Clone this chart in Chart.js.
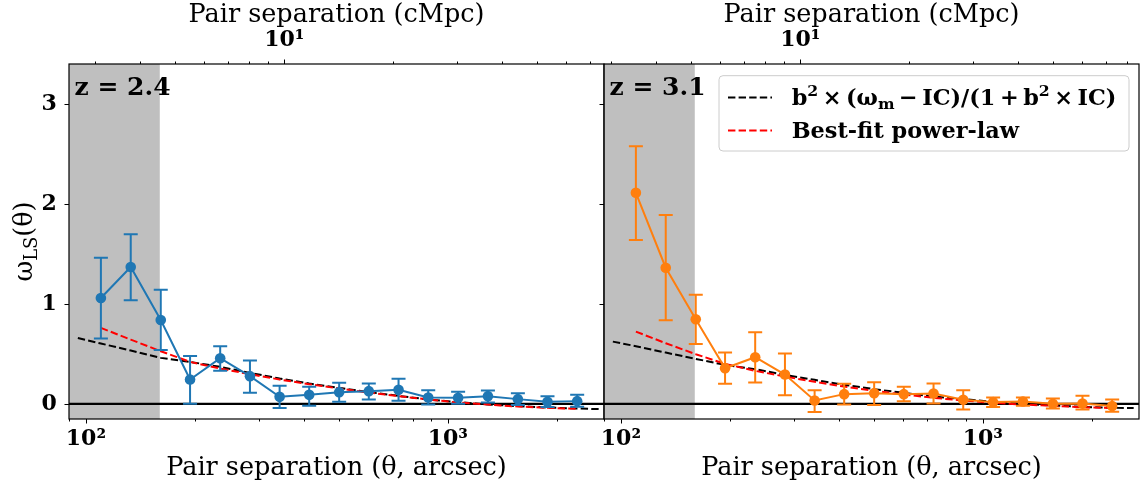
<!DOCTYPE html>
<html><head><meta charset="utf-8">
<script src="https://cdn.jsdelivr.net/npm/chart.js@4.4.1/dist/chart.umd.min.js"></script>
<style>
html,body{margin:0;padding:0;background:#fff;}
#wrap{position:relative;width:1140px;height:487px;overflow:hidden;background:#fff;}
.pane{position:absolute;top:0;height:487px;}
</style></head><body>
<div id="wrap">
<div class="pane" style="left:0;width:620px"><canvas id="cl" width="620" height="487"></canvas></div>
<div class="pane" style="left:580px;width:580px"><canvas id="cr" width="580" height="487"></canvas></div>
</div>
<script>
// ---------------- data ----------------
const theta = [110, 133, 161, 194, 235, 284, 343, 414, 501, 605, 731, 883, 1068, 1291, 1562, 1886, 2278];

const w24  = [1.06, 1.37, 0.84, 0.243, 0.457, 0.277, 0.07, 0.09, 0.117, 0.127, 0.14, 0.063, 0.06, 0.077, 0.047, 0.02, 0.027];
const lo24 = [0.653, 1.037, 0.54, 0.0, 0.33, 0.11, -0.043, -0.02, 0.02, 0.043, 0.03, -0.007, 0.0, 0.013, -0.013, -0.033, -0.03];
const hi24 = [1.463, 1.697, 1.143, 0.48, 0.577, 0.433, 0.18, 0.17, 0.21, 0.203, 0.25, 0.137, 0.12, 0.133, 0.107, 0.077, 0.09];

const w31  = [2.113, 1.363, 0.847, 0.357, 0.467, 0.293, 0.033, 0.097, 0.107, 0.097, 0.103, 0.04, 0.017, 0.023, 0.0, 0.003, -0.023];
const lo31 = [1.64, 0.837, 0.6, 0.2, 0.213, 0.087, -0.083, -0.007, -0.013, 0.027, 0.003, -0.057, -0.033, -0.02, -0.047, -0.057, -0.08];
const hi31 = [2.58, 1.89, 1.093, 0.513, 0.717, 0.503, 0.137, 0.2, 0.217, 0.17, 0.203, 0.137, 0.063, 0.063, 0.053, 0.08, 0.043];

const modelTheta = [95, 110, 133, 161, 194, 235, 284, 343, 414, 501, 605, 731, 883, 1068, 1291, 1562, 1886, 2278, 2612];
const model24 = [0.66, 0.604, 0.533, 0.46, 0.42, 0.37, 0.31, 0.253, 0.203, 0.16, 0.117, 0.08, 0.043, 0.017, -0.007, -0.023, -0.037, -0.047, -0.053];
const model31 = [0.623, 0.577, 0.513, 0.45, 0.39, 0.347, 0.29, 0.24, 0.19, 0.147, 0.11, 0.073, 0.047, 0.02, 0.0, -0.017, -0.03, -0.04, -0.043];

const fit24 = [0.76, 0.643, 0.527, 0.42, 0.353, 0.297, 0.243, 0.197, 0.153, 0.113, 0.077, 0.043, 0.013, -0.007, -0.027, -0.04, -0.05];
const fit31 = [0.723, 0.607, 0.497, 0.4, 0.33, 0.273, 0.22, 0.173, 0.13, 0.093, 0.06, 0.033, 0.01, -0.007, -0.02, -0.033, -0.043];

const xRange = [89.8, 2702];
const yRange = [-0.152, 3.403];
const shadeMax = 160;
const cMpcPerArcsec = {z24: 0.02830, z31: 0.03192};

const bottomTicks = [90, 100, 200, 300, 400, 500, 600, 700, 800, 900, 1000, 2000];
const bottomMajor = [100, 1000];
const bottomLabels = {100: '10²', 1000: '10³'};
const topTicks = [3, 4, 5, 6, 7, 8, 9, 10, 20, 30, 40, 50, 60, 70, 80, 90];
const topMajor = [10];
const topLabels = {10: '10¹'};
const yTicks = [0, 1, 2, 3];

const legendLabels = ['b² × (ωm − IC)/(1 + b² × IC)', 'Best-fit power-law'];

// ---------------- helpers ----------------
const SERIF = '"DejaVu Serif", serif';
const BLUE = '#1f77b4', ORANGE = '#ff7f0e';

function drawRich(ctx, x, y, segs, base, weight) {
  ctx.textAlign = 'left'; ctx.textBaseline = 'alphabetic';
  for (const s of segs) {
    if (s.gap) { x += s.gap * base; continue; }
    const size = base * (s.scale || 1);
    ctx.font = `${weight} ${size}px ${SERIF}`;
    ctx.fillText(s.t, x, y + (s.dy || 0) * base);
    x += ctx.measureText(s.t).width;
  }
  return x;
}
function richWidth(ctx, segs, base, weight) {
  let w = 0;
  for (const s of segs) {
    if (s.gap) { w += s.gap * base; continue; }
    ctx.font = `${weight} ${base*(s.scale||1)}px ${SERIF}`; w += ctx.measureText(s.t).width;
  }
  return w;
}

const decor = {
  id: 'decor',
  beforeDatasetsDraw(chart, args, o) {
    const {ctx, chartArea: a, scales} = chart;
    ctx.save();
    ctx.beginPath(); ctx.rect(a.left, a.top, a.right - a.left, a.bottom - a.top); ctx.clip();
    const xs = scales.x.getPixelForValue(o.shadeMax);
    ctx.fillStyle = 'rgba(128,128,128,0.5)';
    ctx.fillRect(a.left, a.top, xs - a.left, a.bottom - a.top);
    const y0 = scales.y.getPixelForValue(0);
    ctx.strokeStyle = '#000'; ctx.lineWidth = 2.2;
    ctx.beginPath(); ctx.moveTo(a.left, y0); ctx.lineTo(a.right, y0); ctx.stroke();
    ctx.restore();
  },
  afterDatasetsDraw(chart, args, o) {
    const {ctx, chartArea: a, scales} = chart;
    ctx.save();
    ctx.beginPath(); ctx.rect(a.left, a.top, a.right - a.left, a.bottom - a.top); ctx.clip();
    ctx.strokeStyle = o.color; ctx.lineWidth = 2;
    for (let i = 0; i < o.x.length; i++) {
      const px = scales.x.getPixelForValue(o.x[i]);
      const pl = scales.y.getPixelForValue(o.lo[i]);
      const ph = scales.y.getPixelForValue(o.hi[i]);
      ctx.beginPath();
      ctx.moveTo(px, pl); ctx.lineTo(px, ph);
      ctx.moveTo(px - 7, pl); ctx.lineTo(px + 7, pl);
      ctx.moveTo(px - 7, ph); ctx.lineTo(px + 7, ph);
      ctx.stroke();
    }
    ctx.restore();
  },
  afterDraw(chart, args, o) {
    const {ctx, chartArea: a, scales} = chart;
    ctx.save();
    // tick marks
    ctx.strokeStyle = '#000'; ctx.lineWidth = 1;
    const xb = scales.x, xt = scales.x2, ys = scales.y;
    for (const v of bottomTicks) {
      if (v < xRange[0] || v > xRange[1]) continue;
      const p = Math.round(xb.getPixelForValue(v)) + 0.5;
      const L = bottomMajor.includes(v) ? 4.5 : 2.5;
      ctx.beginPath(); ctx.moveTo(p, a.bottom); ctx.lineTo(p, a.bottom + L); ctx.stroke();
    }
    for (const v of topTicks) {
      if (v < xt.min || v > xt.max) continue;
      const p = Math.round(xt.getPixelForValue(v)) + 0.5;
      const L = topMajor.includes(v) ? 4.5 : 2.5;
      ctx.beginPath(); ctx.moveTo(p, a.top); ctx.lineTo(p, a.top - L); ctx.stroke();
    }
    for (const v of yTicks) {
      const p = Math.round(ys.getPixelForValue(v)) + 0.5;
      ctx.beginPath(); ctx.moveTo(a.left, p); ctx.lineTo(a.left - 4.5, p); ctx.stroke();
    }
    // spines
    ctx.lineWidth = 1.2;
    ctx.strokeRect(a.left, a.top, a.right - a.left, a.bottom - a.top);

    // panel label
    ctx.fillStyle = '#000';
    ctx.font = `bold 25px ${SERIF}`;
    ctx.textAlign = 'left'; ctx.textBaseline = 'alphabetic';
    ctx.fillText(o.zlabel, a.left + 5.5, 95);

    // y title
    if (o.yTitle) {
      const segs = [{t: 'ω'}, {t: 'LS', scale: 0.7, dy: 0.2}, {t: '(θ)'}];
      const w = richWidth(ctx, segs, 25.5, 'normal');
      ctx.save();
      ctx.translate(31.5, (a.top + a.bottom) / 2);
      ctx.rotate(-Math.PI / 2);
      drawRich(ctx, -w / 2, 0, segs, 25.5, 'normal');
      ctx.restore();
    }

    // legend (page coordinates)
    if (o.legend) {
      const off = chart.canvas.parentNode.offsetLeft;
      ctx.translate(-off, 0);
      const bx = 719, by = 75.7, bw = 410, bh = 75.3, r = 4;
      ctx.beginPath();
      ctx.moveTo(bx + r, by); ctx.lineTo(bx + bw - r, by); ctx.quadraticCurveTo(bx + bw, by, bx + bw, by + r);
      ctx.lineTo(bx + bw, by + bh - r); ctx.quadraticCurveTo(bx + bw, by + bh, bx + bw - r, by + bh);
      ctx.lineTo(bx + r, by + bh); ctx.quadraticCurveTo(bx, by + bh, bx, by + bh - r);
      ctx.lineTo(bx, by + r); ctx.quadraticCurveTo(bx, by, bx + r, by);
      ctx.closePath();
      ctx.fillStyle = 'rgba(255,255,255,0.8)'; ctx.fill();
      ctx.strokeStyle = '#cccccc'; ctx.lineWidth = 1; ctx.stroke();
      ctx.lineWidth = 2; ctx.setLineDash([7.4, 3.2]);
      ctx.strokeStyle = '#000';
      ctx.beginPath(); ctx.moveTo(728, 97.5); ctx.lineTo(772, 97.5); ctx.stroke();
      ctx.strokeStyle = '#ff0000';
      ctx.beginPath(); ctx.moveTo(728, 130.5); ctx.lineTo(772, 130.5); ctx.stroke();
      ctx.setLineDash([]);
      ctx.fillStyle = '#000';
      const g = 0.2;
      const segs = [
        {t: 'b'}, {t: '2', scale: 0.7, dy: -0.4}, {gap: g}, {t: '×'}, {gap: g}, {t: '(ω'}, {t: 'm', scale: 0.7, dy: 0.2},
        {gap: g}, {t: '−'}, {gap: g}, {t: 'IC)/(1'}, {gap: g}, {t: '+'}, {gap: g}, {t: 'b'},
        {t: '2', scale: 0.7, dy: -0.4}, {gap: g}, {t: '×'}, {gap: g}, {t: 'IC)'}
      ];
      drawRich(ctx, 791.7, 104.5, segs, 22.4, 'bold');
      drawRich(ctx, 791.7, 137.5, [{t: legendLabels[1]}], 22.4, 'bold');
    }
    ctx.restore();
  }
};

function makeChart(id, opts) {
  const k = opts.k;
  const tickFont = {family: 'DejaVu Serif', size: 22, weight: 'bold'};
  const titleFont = {family: 'DejaVu Serif', size: 25.5, weight: 'normal'};
  const noGrid = {display: false, drawTicks: false, tickLength: 0};
  const chart = new Chart(document.getElementById(id), {
    type: 'line',
    data: {
      datasets: [
        {data: theta.map((x, i) => ({x, y: opts.w[i]})), borderColor: opts.color, backgroundColor: opts.color,
         borderWidth: 2, pointRadius: 5.3, pointBorderWidth: 0, pointBackgroundColor: opts.color, order: 0},
        {data: theta.map((x, i) => ({x, y: opts.fit[i]})), borderColor: '#ff0000', borderWidth: 2,
         borderDash: [7.4, 3.2], pointRadius: 0, order: 1},
        {data: modelTheta.map((x, i) => ({x, y: opts.model[i]})), borderColor: '#000000', borderWidth: 2,
         borderDash: [7.4, 3.2], pointRadius: 0, order: 2}
      ]
    },
    options: {
      responsive: false, animation: false, devicePixelRatio: 1,
      layout: {padding: {left: 0, right: opts.padRight, top: 0, bottom: 0}},
      plugins: {
        legend: {display: false}, tooltip: {enabled: false},
        decor: {shadeMax, zlabel: opts.zlabel, yTitle: opts.yTitle, legend: opts.legend,
                color: opts.color, x: theta, lo: opts.lo, hi: opts.hi}
      },
      scales: {
        x: {
          type: 'logarithmic', position: 'bottom', min: xRange[0], max: xRange[1],
          grid: noGrid, border: {display: false},
          afterBuildTicks: s => { s.ticks = bottomTicks.filter(v => v >= xRange[0] && v <= xRange[1]).map(v => ({value: v})); },
          afterFit: s => { s.height = 68; },
          ticks: {autoSkip: false, maxRotation: 0, padding: 7.5, color: '#000', font: tickFont,
                  callback: v => bottomLabels[v] || ''},
          title: {display: true, text: 'Pair separation (θ, arcsec)', color: '#000', font: titleFont,
                  padding: {top: 0, bottom: 3.8}}
        },
        x2: {
          type: 'logarithmic', position: 'top', min: xRange[0] * k, max: xRange[1] * k,
          grid: noGrid, border: {display: false},
          afterBuildTicks: s => { s.ticks = topTicks.filter(v => v >= s.min && v <= s.max).map(v => ({value: v})); },
          afterFit: s => { s.height = 64; },
          ticks: {autoSkip: false, maxRotation: 0, padding: 10.1, color: '#000', font: tickFont,
                  callback: v => topLabels[v] || ''},
          title: {display: true, text: 'Pair separation (cMpc)', color: '#000', font: titleFont,
                  padding: {top: 0.4, bottom: 0}}
        },
        y: {
          type: 'linear', min: yRange[0], max: yRange[1],
          grid: noGrid, border: {display: false},
          afterBuildTicks: s => { s.ticks = yTicks.map(v => ({value: v})); },
          afterFit: s => { s.width = opts.yWidth; },
          ticks: {display: opts.yLabels, padding: 12.3, color: '#000', font: tickFont, callback: v => String(v)}
        }
      }
    },
    plugins: [decor]
  });
  // keep the plot area at the reference position
  for (let n = 0; n < 3; n++) {
    const a = chart.chartArea;
    const dr = a.right - opts.areaRight;
    if (Math.abs(dr) < 0.3) break;
    chart.options.layout.padding.right += dr;
    chart.update();
  }
  return chart;
}

makeChart('cl', {k: cMpcPerArcsec.z24, w: w24, lo: lo24, hi: hi24, fit: fit24, model: model24,
  color: BLUE, zlabel: 'z = 2.4', yTitle: true, legend: false, yWidth: 69, yLabels: true, padRight: 16, areaRight: 604});
makeChart('cr', {k: cMpcPerArcsec.z31, w: w31, lo: lo31, hi: hi31, fit: fit31, model: model31,
  color: ORANGE, zlabel: 'z = 3.1', yTitle: false, legend: true, yWidth: 24, yLabels: false, padRight: 21, areaRight: 559});
</script>
</body></html>
